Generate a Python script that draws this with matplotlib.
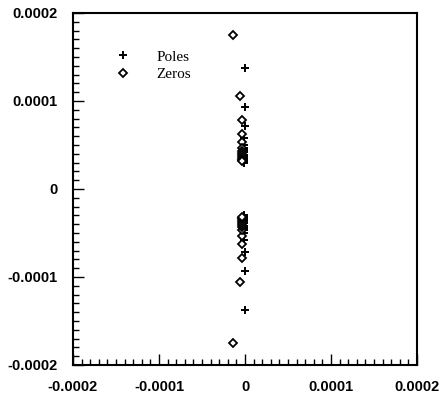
import matplotlib
matplotlib.use("Agg")
import matplotlib.pyplot as plt
from matplotlib.ticker import MultipleLocator, FixedLocator

# Zeros (open diamonds), upper half; lower half mirrored
zeros_x_upper = [-1.43e-5, -5.8e-6, -3.8e-6, -3.3e-6, -3.0e-6, -3.0e-6, -3.0e-6,
                 -3.0e-6, -3.0e-6, -3.0e-6, -3.0e-6, -3.0e-6, -3.0e-6]
zeros_y_upper = [1.75e-4, 1.057e-4, 7.8e-5, 6.25e-5, 5.34e-5, 4.66e-5, 4.3e-5,
                 4.09e-5, 3.9e-5, 3.64e-5, 3.45e-5, 3.3e-5, 3.15e-5]
# Poles (plus), upper half; lower half mirrored
poles_x_upper = [0.0, 0.0, 0.0, -1.0e-6, -1.0e-6, -1.0e-6, -1.0e-6, -1.0e-6, -1.0e-6,
                 -1.0e-6, -1.0e-6, -1.0e-6, -1.0e-6, -1.0e-6, -1.0e-6]
poles_y_upper = [1.375e-4, 9.3e-5, 7.16e-5, 5.8e-5, 5.0e-5, 4.7e-5, 4.43e-5, 4.2e-5,
                 3.86e-5, 3.7e-5, 3.52e-5, 3.35e-5, 3.18e-5, 3.05e-5, 2.95e-5]

zeros_x = zeros_x_upper + zeros_x_upper
zeros_y = zeros_y_upper + [-v for v in zeros_y_upper]
poles_x = poles_x_upper + poles_x_upper
poles_y = poles_y_upper + [-v for v in poles_y_upper]

xticks = [-0.0002, -0.0001, 0, 0.0001, 0.0002]
xticklabels = ["-0.0002", "-0.0001", "0", "0.0001", "0.0002"]
yticks = [-0.0002, -0.0001, 0, 0.0001, 0.0002]
yticklabels = ["-0.0002", "-0.0001", "0", "0.0001", "0.0002"]

fig = plt.figure(figsize=(4.41, 3.94), dpi=100)
ax = fig.add_axes([73/441, 1-365/394, (417-73)/441, (365-13)/394])

ax.plot(poles_x, poles_y, linestyle="none", marker="+", markersize=5.5,
        markeredgewidth=1.4, color="black", label="Poles")
ax.plot(zeros_x, zeros_y, linestyle="none", marker="D", markersize=3.6,
        markerfacecolor="white", markeredgewidth=1.3, color="black", label="Zeros")

ax.set_xlim(-0.0002, 0.0002)
ax.set_ylim(-0.0002, 0.0002)
ax.xaxis.set_major_locator(FixedLocator(xticks))
ax.yaxis.set_major_locator(FixedLocator(yticks))
ax.set_xticklabels(xticklabels)
ax.set_yticklabels(yticklabels)
ax.xaxis.set_minor_locator(MultipleLocator(0.00001))
ax.yaxis.set_minor_locator(MultipleLocator(0.00001))

ax.tick_params(which="both", direction="in", top=False, right=False,
               width=1.0, colors="black")
ax.tick_params(axis="x", which="major", length=8, pad=11, labelsize=10.5)
ax.tick_params(axis="y", which="major", length=8, pad=11, labelsize=10.5)
ax.tick_params(which="minor", length=4)
for lab in ax.get_xticklabels() + ax.get_yticklabels():
    lab.set_fontweight("bold")
    lab.set_family("Liberation Sans")

for s in ax.spines.values():
    s.set_linewidth(1.5)

leg = ax.legend(loc="upper left", bbox_to_anchor=(0.1235, 0.895), frameon=False,
                borderpad=0, borderaxespad=0,
                prop={"family": "Liberation Serif", "size": 11},
                handlelength=1.0, handletextpad=1.7, labelspacing=0.25)

fig.savefig("out.png", dpi=100)
